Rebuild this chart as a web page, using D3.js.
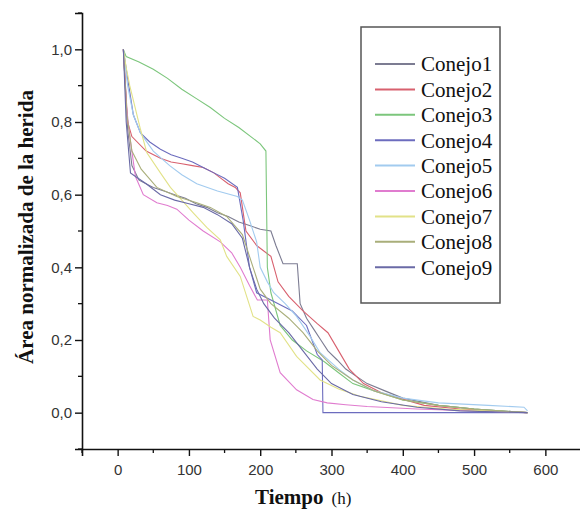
<!DOCTYPE html>
<html><head><meta charset="utf-8">
<script src="https://cdn.jsdelivr.net/npm/d3@7/dist/d3.min.js"></script>
<style>body{margin:0;background:#fff}svg{display:block}
.serif{font-family:"Liberation Serif","Times New Roman",serif}
.sans{font-family:"Liberation Sans",Arial,sans-serif}</style>
</head><body>
<script>
const seriesNames = ["Conejo1","Conejo2","Conejo3","Conejo4","Conejo5","Conejo6","Conejo7","Conejo8","Conejo9"];
const seriesColors = ["#7c7c92","#d8606e","#7cc67c","#6c6cbe","#a2cbef","#e07ccf","#e2e288","#a9ae7a","#6a6aa6"];

const t1 = [8,14,20,30,50,65,80,95,110,125,140,155,170,185,200,215,222,232,252,256,265,275,285,295,308,320,335,350,375,400,450,500,575];
const v1 = [1.0,0.78,0.68,0.64,0.62,0.61,0.60,0.59,0.575,0.565,0.55,0.54,0.525,0.515,0.505,0.50,0.46,0.41,0.41,0.30,0.26,0.23,0.20,0.17,0.145,0.12,0.10,0.08,0.06,0.04,0.02,0.01,0.0];
const t2 = [8,14,20,40,60,75,90,105,120,135,145,155,165,172,180,195,215,225,240,260,280,295,310,325,345,370,395,430,480,575];
const v2 = [1.0,0.80,0.76,0.72,0.70,0.69,0.685,0.68,0.675,0.66,0.645,0.63,0.62,0.605,0.50,0.46,0.43,0.36,0.32,0.28,0.245,0.22,0.17,0.12,0.08,0.055,0.04,0.02,0.01,0.0];
const t3 = [8,12,30,50,70,90,110,130,150,170,190,200,208,210,215,228,245,265,290,310,330,360,400,450,500,575];
const v3 = [1.0,0.98,0.965,0.945,0.92,0.89,0.865,0.84,0.81,0.785,0.755,0.74,0.72,0.40,0.33,0.24,0.20,0.17,0.14,0.11,0.08,0.06,0.035,0.02,0.01,0.0];
const t4 = [8,14,22,32,45,60,75,90,105,120,135,150,168,176,185,195,215,245,265,280,287,288,575];
const v4 = [1.0,0.92,0.82,0.77,0.745,0.725,0.71,0.70,0.69,0.675,0.66,0.645,0.62,0.53,0.40,0.33,0.31,0.28,0.24,0.16,0.145,0.0,0.0];
const t5 = [8,14,22,32,50,73,90,111,140,168,175,185,195,200,210,219,235,251,270,284,310,330,360,400,450,520,570,575];
const v5 = [1.0,0.90,0.82,0.77,0.72,0.68,0.655,0.63,0.61,0.595,0.585,0.53,0.47,0.40,0.36,0.33,0.30,0.265,0.21,0.165,0.12,0.09,0.06,0.04,0.027,0.02,0.015,0.005];
const t6 = [8,12,17,25,36,55,70,83,100,120,144,160,172,185,196,210,214,228,251,274,294,320,350,420,500,575];
const v6 = [1.0,0.85,0.76,0.65,0.60,0.578,0.57,0.56,0.53,0.50,0.47,0.44,0.40,0.35,0.31,0.31,0.20,0.11,0.063,0.036,0.027,0.022,0.017,0.01,0.005,0.0];
const t7 = [8,12,17,32,41,60,74,90,106,125,144,153,172,190,200,215,228,251,284,310,340,400,460,575];
const v7 = [1.0,0.95,0.90,0.78,0.715,0.66,0.62,0.585,0.55,0.51,0.476,0.43,0.375,0.265,0.255,0.235,0.22,0.155,0.09,0.065,0.045,0.02,0.01,0.0];
const t8 = [8,13,20,33,55,83,111,130,153,175,190,200,215,240,260,280,300,330,360,400,450,500,575];
const v8 = [1.0,0.82,0.72,0.67,0.62,0.595,0.578,0.565,0.54,0.49,0.40,0.34,0.30,0.26,0.22,0.17,0.13,0.09,0.06,0.035,0.02,0.01,0.0];
const t9 = [8,12,18,25,40,60,80,100,120,140,160,175,185,195,205,220,240,260,280,300,330,370,420,480,575];
const v9 = [1.0,0.80,0.66,0.65,0.63,0.60,0.585,0.575,0.565,0.545,0.52,0.48,0.40,0.34,0.30,0.26,0.22,0.17,0.12,0.08,0.05,0.03,0.015,0.005,0.0];

const xTicks = [0,100,200,300,400,500,600];
const yTicks = [0,0.2,0.4,0.6,0.8,1.0];
const xLabel = "Tiempo";
const xUnit = "(h)";
const yLabel = "Área normalizada de la herida";

const times = [t1,t2,t3,t4,t5,t6,t7,t8,t9];
const values = [v1,v2,v3,v4,v5,v6,v7,v8,v9];

const W = 580, H = 510;
const svg = d3.select("body").append("svg").attr("width", W).attr("height", H);

const x = d3.scaleLinear().domain([-50, 650]).range([82, 581]);
const y = d3.scaleLinear().domain([-0.1, 1.1]).range([449, 13]);

const fmt = d => d3.format(".1f")(d).replace(".", ",");

// lines
const line = d3.line().x(d => x(d[0])).y(d => y(d[1]));
seriesNames.forEach((name, i) => {
  const pts = times[i].map((t, j) => [t, values[i][j]]);
  svg.append("path").datum(pts).attr("d", line)
    .attr("fill", "none").attr("stroke", seriesColors[i]).attr("stroke-width", 1.1);
});

// axes
const xAxis = d3.axisBottom(x).tickValues(xTicks).tickSize(7).tickFormat(d3.format("d"));
const gx = svg.append("g").attr("transform", `translate(0,${y(-0.1)})`).call(xAxis);
gx.select(".domain").attr("stroke", "#111").attr("stroke-width", 1.6);
gx.selectAll(".tick line").attr("stroke", "#111").attr("stroke-width", 1.4);
gx.selectAll(".tick text").attr("class", "sans").attr("font-family", null)
  .attr("font-size", 15).attr("fill", "#333").attr("dy", "1.05em");
// minor x ticks
svg.append("g").selectAll("line").data(d3.range(-50, 651, 100))
  .join("line").attr("x1", d => x(d)).attr("x2", d => x(d))
  .attr("y1", y(-0.1)).attr("y2", y(-0.1) + 4).attr("stroke", "#111").attr("stroke-width", 1.3);

const yAxis = d3.axisLeft(y).tickValues(yTicks).tickSize(7).tickFormat(fmt);
const gy = svg.append("g").attr("transform", `translate(${x(-50)},0)`).call(yAxis);
gy.select(".domain").attr("stroke", "#111").attr("stroke-width", 1.6);
gy.selectAll(".tick line").attr("stroke", "#111").attr("stroke-width", 1.4);
gy.selectAll(".tick text").attr("class", "sans").attr("font-family", null)
  .attr("font-size", 15).attr("fill", "#333").attr("x", -10);
svg.append("g").selectAll("line").data(d3.range(-0.1, 1.11, 0.2))
  .join("line").attr("x1", x(-50) - 4).attr("x2", x(-50))
  .attr("y1", d => y(d)).attr("y2", d => y(d)).attr("stroke", "#111").attr("stroke-width", 1.3);
gx.attr("font-family", null); gy.attr("font-family", null);

// axis titles
const xt = svg.append("text").attr("class", "serif").attr("x", 255).attr("y", 504).attr("fill", "#111");
xt.append("tspan").attr("font-weight", "bold").attr("font-size", 21).text(xLabel);
xt.append("tspan").attr("font-size", 17).attr("dx", 8).text(xUnit);

svg.append("text").attr("class", "serif")
  .attr("transform", `translate(33,227) rotate(-90)`)
  .attr("text-anchor", "middle")
  .attr("font-weight", "bold").attr("font-size", 21).attr("fill", "#111")
  .text(yLabel);

// legend
svg.append("rect").attr("x", 361).attr("y", 27).attr("width", 139).attr("height", 276)
  .attr("fill", "#fff").attr("stroke", "#555").attr("stroke-width", 1.5);
seriesNames.forEach((name, i) => {
  const cy = 64 + i * 25.4;
  svg.append("line").attr("x1", 375).attr("x2", 415).attr("y1", cy).attr("y2", cy)
    .attr("stroke", seriesColors[i]).attr("stroke-width", 2);
  svg.append("text").attr("class", "serif").attr("x", 421).attr("y", cy).attr("dy", "0.35em")
    .attr("font-size", 21).attr("fill", "#111").text(name);
});
</script>
</body></html>
